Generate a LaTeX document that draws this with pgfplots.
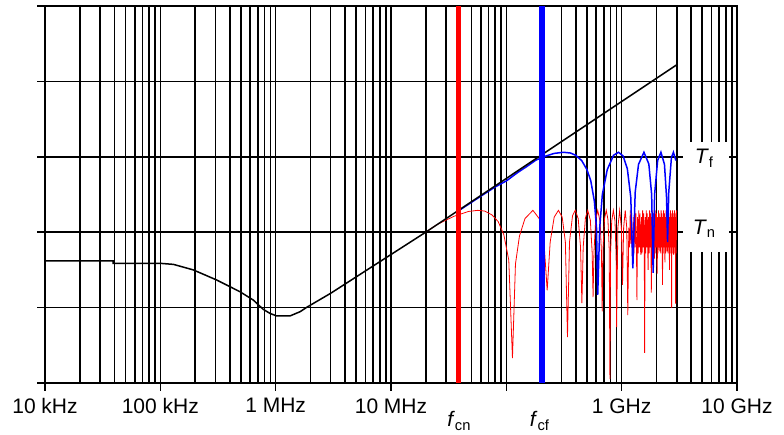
\documentclass[border=0pt]{standalone}
\usepackage{fontspec}
\setmainfont{Liberation Sans}
\usepackage{pgfplots}
\pgfplotsset{compat=1.18}
\begin{document}
\begin{tikzpicture}
\begin{axis}[
  at={(0pt,0pt)}, anchor=south west,
  scale only axis, width=692pt, height=377pt,
  xmode=log, log basis x=10,
  xmin=1e4, xmax=1e10, ymin=0, ymax=5,
  xtick={1e4,1e5,1e6,1e7,1e8,1e9,1e10},
  xticklabels={10 kHz,100 kHz,1 MHz,10 MHz,,1 GHz,10 GHz},
  minor xtick={2e4,3e4,4e4,5e4,6e4,7e4,8e4,9e4,
               2e5,3e5,4e5,5e5,6e5,7e5,8e5,9e5,
               2e6,3e6,4e6,5e6,6e6,7e6,8e6,9e6,
               2e7,3e7,4e7,5e7,6e7,7e7,8e7,9e7,
               2e8,3e8,4e8,5e8,6e8,7e8,8e8,9e8,
               2e9,3e9,4e9,5e9,6e9,7e9,8e9,9e9},
  ytick={0,1,2,3,4,5}, yticklabels={},
  grid=both,
  major grid style={black, line width=1.6pt},
  minor grid style={black, line width=1.6pt},
  axis line style={black, line width=1.6pt},
  tick style={black, line width=1.6pt},
  major tick length=8pt, minor tick length=0pt,
  tick align=outside,
  xtick pos=left, ytick pos=left,
  xticklabel style={font=\fontsize{21}{24}\selectfont, anchor=north, yshift=-4pt},
  clip=false,
]
% T_n (red)
\addplot[red, line width=0.8pt] coordinates {
(2e7,2.00) (2.5e7,2.10) (3e7,2.16) (3.5e7,2.21) (4e7,2.24) (4.7e7,2.275) (5.65e7,2.29) (6.5e7,2.28) (7.5e7,2.23) (8.5e7,2.14) (9.5e7,1.97) (1.05e8,1.63) (1.13e8,0.33) (1.2e8,1.58) (1.3e8,1.95) (1.45e8,2.18) (1.7e8,2.29) (1.95e8,2.17) (2.12e8,1.87) (2.26e8,1.23) (2.4e8,1.87) (2.6e8,2.20) (2.83e8,2.29) (3.05e8,2.20) (3.25e8,1.87) (3.39e8,0.61) (3.53e8,1.87) (3.75e8,2.22) (3.96e8,2.29) (4.2e8,2.18) (4.4e8,1.80) (4.52e8,1.06) (4.64e8,1.80) (4.85e8,2.19) (5.08e8,2.29) (5.35e8,2.16) (5.55e8,1.73) (5.65e8,1.14) (5.75e8,1.73) (5.95e8,2.16) (6.2e8,2.29) (6.5e8,2.14) (6.68e8,1.73) (6.78e8,0.95) (6.9e8,1.80) (7.1e8,2.18) (7.35e8,2.29) (7.6e8,2.17) (7.8e8,1.77) (7.91e8,0.05) (8.0e8,1.69) (8.2e8,2.15) (8.47e8,2.29) (8.75e8,2.15) (8.95e8,1.69) (9.04e8,0.74)
(9.27e8,2.06) (9.61e8,2.29) (9.94e8,2.06) (1.017e9,1.30)
(1.040e9,2.06) (1.074e9,2.29) (1.107e9,2.06) (1.130e9,0.90)
(1.153e9,2.06) (1.170e9,1.80) (1.187e9,2.29) (1.204e9,1.85) (1.220e9,2.06) (1.243e9,1.60)
(1.260e9,2.20) (1.277e9,1.72) (1.294e9,2.29) (1.311e9,1.80) (1.328e9,2.25) (1.345e9,1.75) (1.356e9,1.10)
(1.373e9,2.20) (1.390e9,1.72) (1.407e9,2.29) (1.424e9,1.80) (1.441e9,2.25) (1.458e9,1.75) (1.469e9,1.70)
(1.486e9,2.20) (1.503e9,1.72) (1.520e9,2.29) (1.537e9,1.80) (1.554e9,2.25) (1.571e9,1.75) (1.582e9,0.40)
(1.599e9,2.20) (1.616e9,1.72) (1.633e9,2.29) (1.650e9,1.80) (1.667e9,2.25) (1.684e9,1.75) (1.695e9,1.50)
(1.712e9,2.20) (1.729e9,1.72) (1.746e9,2.29) (1.763e9,1.80) (1.780e9,2.25) (1.797e9,1.75) (1.808e9,1.20)
(1.825e9,2.20) (1.842e9,1.72) (1.859e9,2.29) (1.876e9,1.80) (1.893e9,2.25) (1.910e9,1.75) (1.921e9,1.65)
(1.938e9,2.20) (1.955e9,1.72) (1.972e9,2.29) (1.989e9,1.80) (2.006e9,2.25) (2.023e9,1.75) (2.034e9,1.45)
(2.051e9,2.20) (2.068e9,1.72) (2.085e9,2.29) (2.102e9,1.80) (2.119e9,2.25) (2.136e9,1.75) (2.147e9,1.75)
(2.164e9,2.20) (2.181e9,1.72) (2.198e9,2.29) (2.215e9,1.80) (2.232e9,2.25) (2.249e9,1.75) (2.260e9,1.30)
(2.277e9,2.20) (2.294e9,1.72) (2.311e9,2.29) (2.328e9,1.80) (2.345e9,2.25) (2.362e9,1.75) (2.373e9,1.60)
(2.390e9,2.20) (2.407e9,1.72) (2.424e9,2.29) (2.441e9,1.80) (2.458e9,2.25) (2.475e9,1.75) (2.486e9,1.75)
(2.503e9,2.20) (2.520e9,1.72) (2.537e9,2.29) (2.554e9,1.80) (2.571e9,2.25) (2.588e9,1.75) (2.599e9,1.50)
(2.616e9,2.20) (2.633e9,1.72) (2.650e9,2.29) (2.667e9,1.80) (2.684e9,2.25) (2.701e9,1.75) (2.712e9,1.00)
(2.729e9,2.20) (2.746e9,1.72) (2.763e9,2.29) (2.780e9,1.80) (2.797e9,2.25) (2.814e9,1.75) (2.825e9,1.70)
(2.842e9,2.20) (2.859e9,1.72) (2.876e9,2.29) (2.893e9,1.80) (2.910e9,2.25) (2.927e9,1.75) (2.938e9,1.05)
(2.955e9,2.20) (2.972e9,1.72) (2.995e9,2.29)
};
% T_f (blue)
\addplot[blue, line width=1.5pt] coordinates {
(4e7,2.30) (6e7,2.477) (8e7,2.60) (1e8,2.68) (1.25e8,2.79) (1.5e8,2.87) (1.8e8,2.955) (2.2e8,3.01) (2.6e8,3.045) (3.125e8,3.06) (3.6e8,3.05) (4e8,3.02) (4.5e8,2.95) (5e8,2.83) (5.4e8,2.68) (5.8e8,2.41) (6.05e8,2.06) (6.2e8,1.17) (6.45e8,2.06) (6.8e8,2.50) (7.5e8,2.83) (8.5e8,3.02) (9.4e8,3.06) (1.03e9,3.01) (1.12e9,2.84) (1.2e9,2.46) (1.25e9,1.52) (1.31e9,2.53) (1.4e9,2.90) (1.56e9,3.06) (1.72e9,2.905) (1.82e9,2.50) (1.875e9,1.46) (1.93e9,2.50) (2.05e9,2.95) (2.19e9,3.06) (2.35e9,2.90) (2.45e9,2.46) (2.5e9,1.87) (2.56e9,2.53) (2.7e9,2.99) (2.81e9,3.06) (2.95e9,2.95)
};
% black envelope
\addplot[black, line width=1.5pt] coordinates {
(1e4,1.62) (3.9e4,1.62) (3.9e4,1.587) (1e5,1.587) (1.3e5,1.573) (1.93e5,1.50) (3.08e5,1.366) (4.91e5,1.21) (6.4e5,1.10) (7.8e5,0.977) (8.9e5,0.924) (1.02e6,0.889) (1.33e6,0.889) (1.63e6,0.946) (1.86e6,1.004) (3e6,1.19) (2e7,2.0) (3e9,4.22)
};
% corner frequencies
\addplot[red, line width=5pt] coordinates {(3.82e7,0) (3.82e7,5)};
\addplot[blue, line width=6pt] coordinates {(2.04e8,0) (2.04e8,5)};
% label area
\fill[white] (axis cs:3.41e9,1.74) rectangle (axis cs:8.6e9,3.2);
\node[anchor=base, font=\fontsize{21}{24}\selectfont, inner sep=0pt] at (axis cs:5.2e9,3) [yshift=-7pt] {\textit{T}\textsubscript{f}};
\node[anchor=base, font=\fontsize{21}{24}\selectfont, inner sep=0pt] at (axis cs:5.2e9,2) [yshift=-2pt] {\textit{T}\textsubscript{n}};
\node[anchor=base, font=\fontsize{21}{24}\selectfont, inner sep=0pt] at (axis cs:3.9e7,0) [yshift=-44pt] {\textit{f}\textsubscript{cn}};
\node[anchor=base, font=\fontsize{21}{24}\selectfont, inner sep=0pt] at (axis cs:1.95e8,0) [yshift=-44pt] {\textit{f}\textsubscript{cf}};
\end{axis}
\pgfresetboundingbox
\path[use as bounding box] (-45pt,-52pt) rectangle (739pt,383pt);
\end{tikzpicture}
\end{document}
